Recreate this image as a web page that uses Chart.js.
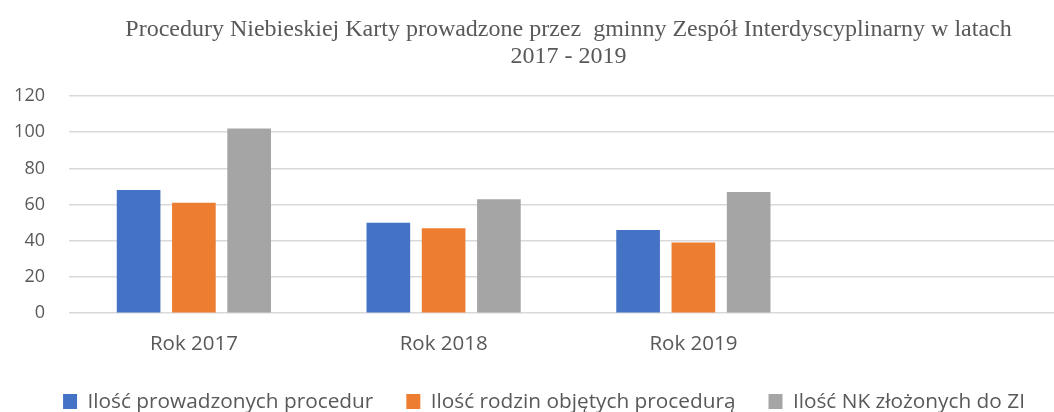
<!DOCTYPE html>
<html>
<head>
<meta charset="utf-8">
<script src="https://cdn.jsdelivr.net/npm/chart.js@4.4.1/dist/chart.umd.min.js"></script>
<style>
html,body{margin:0;padding:0;background:#fff;overflow:hidden;}
#wrap{width:1054px;height:412px;overflow:hidden;}
</style>
</head>
<body>
<div id="wrap"><canvas id="c" width="1088" height="422"></canvas></div>
<script>
const categories = ["Rok 2017", "Rok 2018", "Rok 2019", ""];
const seriesNames = ["Ilość prowadzonych procedur", "Ilość rodzin objętych procedurą", "Ilość NK złożonych do ZI"];
const procedury = [68, 50, 46, null];
const rodziny = [61, 47, 39, null];
const nkZlozone = [102, 63, 67, null];
const yTicks = [0, 20, 40, 60, 80, 100, 120];
const titleLines = ["Procedury Niebieskiej Karty prowadzone przez  gminny Zespół Interdyscyplinarny w latach", "2017 - 2019"];
const colors = ["#4472C4", "#ED7D31", "#A5A5A5"];

const textColor = "#595959";
const sans = "'Open Sans', 'Liberation Sans', sans-serif";

new Chart(document.getElementById("c"), {
  type: "bar",
  data: {
    labels: categories,
    datasets: [
      {label: seriesNames[0], data: procedury, backgroundColor: colors[0]},
      {label: seriesNames[1], data: rodziny, backgroundColor: colors[1]},
      {label: seriesNames[2], data: nkZlozone, backgroundColor: colors[2]}
    ]
  },
  options: {
    responsive: false,
    devicePixelRatio: 1,
    animation: false,
    datasets: {bar: {categoryPercentage: 0.664, barPercentage: 0.79}},
    layout: {padding: {left: 0, right: 0, top: 0, bottom: 0}},
    plugins: {
      tooltip: {enabled: false},
      title: {
        display: true,
        fullSize: false,
        text: titleLines,
        color: textColor,
        font: {family: "'Liberation Serif', serif", size: 24, weight: "normal", lineHeight: 1.125},
        padding: {top: 16, bottom: 26}
      },
      legend: {
        position: "bottom",
        labels: {
          color: textColor,
          font: {family: sans, size: 20.8},
          boxWidth: 14,
          boxHeight: 15,
          padding: 33
        }
      }
    },
    scales: {
      x: {
        grid: {display: false, drawTicks: false},
        border: {display: false},
        afterFit: (scale) => { scale.height = 45; },
        ticks: {color: textColor, font: {family: sans, size: 20.5}, padding: 19, maxRotation: 0}
      },
      y: {
        min: 0,
        max: 120,
        afterBuildTicks: (scale) => { scale.ticks = yTicks.map(v => ({value: v})); },
        afterFit: (scale) => { scale.width = 69; },
        grid: {color: "#d9d9d9", lineWidth: 1.5, drawTicks: false},
        border: {display: false},
        ticks: {color: textColor, font: {family: sans, size: 18}, padding: 24}
      },
      yRight: {
        position: "right",
        display: true,
        min: 0,
        max: 120,
        afterFit: (scale) => { scale.width = 20; },
        grid: {display: false, drawTicks: false},
        border: {display: false},
        ticks: {display: false}
      }
    }
  }
});
</script>
</body>
</html>
